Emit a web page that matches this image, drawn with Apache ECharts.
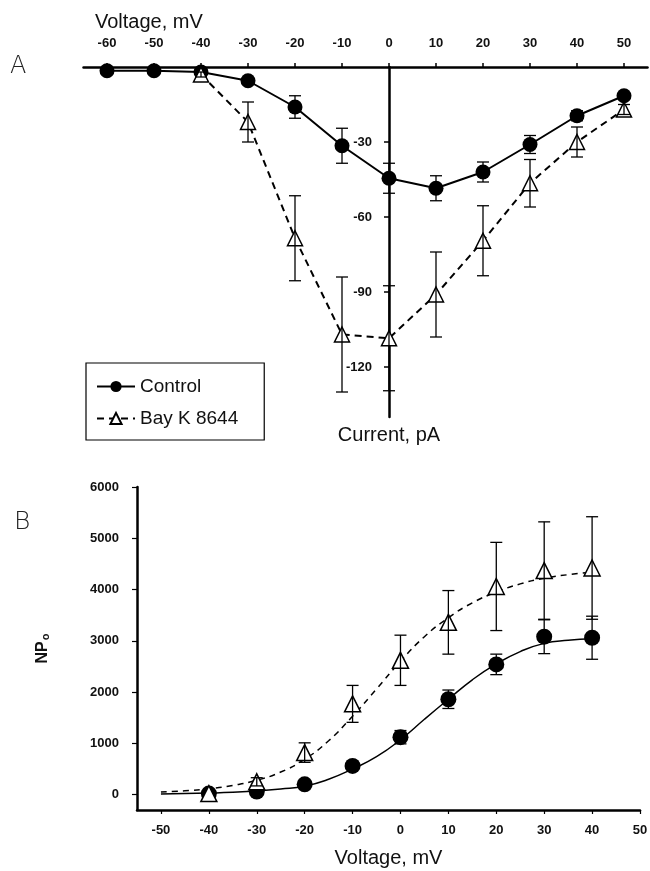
<!DOCTYPE html>
<html lang="en">
<head>
    <meta charset="UTF-8">
    <title>Ca channel I-V and NPo</title>
    <script src="https://cdn.jsdelivr.net/npm/echarts@6/dist/echarts.min.js"></script>
    <style>
        html, body { margin: 0; padding: 0; background: #fff; }
        #chart { width: 650px; height: 871px; }
    </style>
</head>
<body>
<div id="chart"></div>
<script>
    // panel A: current-voltage
    var voltsA = [-60, -50, -40, -30, -20, -10, 0, 10, 20, 30, 40, 50];
    var controlA = [-1.5, -1.5, -2, -5.5, -16, -31.5, -44.5, -48.5, -42, -31, -19.5, -11.5];
    var controlAErr = [0, 0, 0, 0, 4.5, 7, 6, 5, 4, 3.6, 2, 0];
    var voltsBayA = [-40, -30, -20, -10, 0, 10, 20, 30, 40, 50];
    var bayA = [-3, -22, -68.5, -107, -108.5, -91, -69.5, -46.5, -30, -17];
    var bayAErr = [1, 8, 17, 23, 21, 17, 14, 9.5, 6, 2];
    var ticksA_x = [-60, -50, -40, -30, -20, -10, 0, 10, 20, 30, 40, 50];
    var ticksA_y = [-30, -60, -90, -120];

    // panel B: NPo vs voltage
    var voltsB = [-40, -30, -20, -10, 0, 10, 20, 30, 40];
    var controlB = [20, 60, 200, 560, 1120, 1860, 2540, 3080, 3060];
    var controlBErr = [0, 0, 0, 60, 130, 180, 200, 330, 420];
    var bayB = [20, 250, 820, 1770, 2620, 3360, 4060, 4370, 4420];
    var bayBErr = [0, 80, 190, 360, 490, 620, 860, 950, 1000];
    // fitted curves
    var fitV = [-50, -45, -40, -35, -30, -25, -20, -15, -10, -5, 0, 5, 10, 15, 20, 25, 30, 35, 40];
    var fitControl = [10, 20, 30, 45, 70, 110, 165, 300, 500, 740, 1070, 1470, 1860, 2240, 2550, 2790, 2950, 3010, 3040];
    var fitBay = [50, 75, 115, 180, 280, 440, 690, 1050, 1530, 2060, 2600, 3080, 3450, 3740, 3950, 4110, 4220, 4290, 4340];
    var ticksB_x = [-50, -40, -30, -20, -10, 0, 10, 20, 30, 40, 50];
    var ticksB_y = [0, 1000, 2000, 3000, 4000, 5000, 6000];

    function zip(xs, ys, es) {
        var out = [];
        for (var i = 0; i < xs.length; i++) {
            out.push(es ? [xs[i], ys[i], es[i]] : [xs[i], ys[i]]);
        }
        return out;
    }

    function errRender(params, api) {
        var x = api.value(0), y = api.value(1), e = api.value(2);
        if (!e) return null;
        var top = api.coord([x, y + e]);
        var bot = api.coord([x, y - e]);
        var w = 6;
        var st = { stroke: '#000', lineWidth: 1.3 };
        return {
            type: 'group',
            children: [
                { type: 'line', shape: { x1: top[0], y1: top[1], x2: bot[0], y2: bot[1] }, style: st },
                { type: 'line', shape: { x1: top[0] - w, y1: top[1], x2: top[0] + w, y2: top[1] }, style: st },
                { type: 'line', shape: { x1: bot[0] - w, y1: bot[1], x2: bot[0] + w, y2: bot[1] }, style: st }
            ]
        };
    }

    var font = 'Liberation Sans, Arial, sans-serif';
    var tickLabel = {
        color: '#111', fontFamily: font, fontSize: 13, fontWeight: 'bold',
        formatter: function (v) { return String(v); }
    };

    // grid A geometry: x from -65 to 55 over 564 px
    var gridA_left = 83.5, gridA_width = 564;
    var zeroOffsetA = -(65 / 120) * gridA_width;   // move y axis to 0 mV

    var myChart = echarts.init(document.getElementById('chart'));
    var option = {
        backgroundColor: '#fff',
        animation: false,
        grid: [
            { left: gridA_left, width: gridA_width, top: 67, height: 350, outerBoundsMode: 'none' },
            { left: 137, right: 10, top: 487, height: 323, outerBoundsMode: 'none' }
        ],
        legend: {
            data: ['Control', 'Bay K 8644'],
            orient: 'vertical',
            left: 86,
            top: 363,
            padding: [14, 26, 12, 10],
            itemWidth: 38,
            itemHeight: 14,
            itemGap: 13,
            borderColor: '#000',
            borderWidth: 1.2,
            backgroundColor: '#fff',
            textStyle: { color: '#111', fontFamily: font, fontSize: 19 }
        },
        xAxis: [
            {
                gridIndex: 0, type: 'value', position: 'top', min: -65, max: 55,
                axisLine: { onZero: false, lineStyle: { color: '#000', width: 2.5 } },
                axisTick: { length: 4, lineStyle: { color: '#000', width: 1.5 }, customValues: ticksA_x },
                axisLabel: Object.assign({ margin: 17, customValues: ticksA_x }, tickLabel),
                splitLine: { show: false }
            },
            {
                gridIndex: 1, type: 'value', min: -55, max: 50,
                name: 'Voltage, mV', nameLocation: 'middle', nameGap: 38,
                nameTextStyle: { color: '#111', fontFamily: font, fontSize: 20 },
                axisLine: { onZero: false, lineStyle: { color: '#000', width: 2.5 } },
                axisTick: { length: 4, lineStyle: { color: '#000', width: 1.2 }, customValues: ticksB_x },
                axisLabel: Object.assign({ margin: 14, customValues: ticksB_x }, tickLabel),
                splitLine: { show: false }
            }
        ],
        yAxis: [
            {
                gridIndex: 0, type: 'value', min: -140, max: 0,
                position: 'left', offset: zeroOffsetA,
                name: 'Current, pA', nameLocation: 'start', nameGap: 8,
                nameTextStyle: { color: '#111', fontFamily: font, fontSize: 20, verticalAlign: 'top' },
                axisLine: { onZero: false, lineStyle: { color: '#000', width: 2.5 } },
                axisTick: { length: 5, lineStyle: { color: '#000', width: 1.5 }, customValues: ticksA_y },
                axisLabel: Object.assign({ margin: 17, customValues: ticksA_y }, tickLabel),
                splitLine: { show: false }
            },
            {
                gridIndex: 1, type: 'value', min: -300, max: 6000,
                name: '{a|NP}{b|o}', nameLocation: 'middle', nameGap: 86, nameRotate: 90,
                nameTextStyle: {
                    color: '#111', fontFamily: font,
                    rich: {
                        a: { fontSize: 16, fontWeight: 'bold', fontFamily: font, color: '#111' },
                        b: { fontSize: 11, fontWeight: 'bold', fontFamily: font, color: '#111', padding: [6, 0, 0, 1] }
                    }
                },
                axisLine: { onZero: false, lineStyle: { color: '#000', width: 2.5 } },
                axisTick: { length: 5, lineStyle: { color: '#000', width: 1.2 }, customValues: ticksB_y },
                axisLabel: Object.assign({ margin: 18, customValues: ticksB_y }, tickLabel),
                splitLine: { show: false }
            }
        ],
        graphic: [
            { type: 'text', left: 95, top: 12, style: { text: 'Voltage, mV', font: '20px Liberation Sans, Arial, sans-serif', fill: '#111' } },
            { type: 'text', left: 10, top: 55, style: { text: 'A', font: '200 24px DejaVu Sans, sans-serif', fill: '#222' } },
            { type: 'text', left: 14, top: 510, style: { text: 'B', font: '200 25px DejaVu Sans, sans-serif', fill: '#222' } }
        ],
        series: [
            {
                name: 'Control', type: 'line', xAxisIndex: 0, yAxisIndex: 0,
                data: zip(voltsA, controlA),
                symbol: 'circle', symbolSize: 15,
                itemStyle: { color: '#000' },
                lineStyle: { color: '#000', width: 2 },
                z: 3
            },
            {
                name: 'Bay K 8644', type: 'line', xAxisIndex: 0, yAxisIndex: 0,
                data: zip(voltsBayA, bayA),
                symbol: 'triangle', symbolSize: 15,
                itemStyle: { color: '#fff', borderColor: '#000', borderWidth: 1.5 },
                lineStyle: { color: '#000', width: 2, type: [7, 5] },
                z: 4
            },
            {
                name: 'errA1', type: 'custom', xAxisIndex: 0, yAxisIndex: 0,
                data: zip(voltsA, controlA, controlAErr), renderItem: errRender, z: 5, silent: true
            },
            {
                name: 'errA2', type: 'custom', xAxisIndex: 0, yAxisIndex: 0,
                data: zip(voltsBayA, bayA, bayAErr), renderItem: errRender, z: 5, silent: true
            },
            {
                name: 'fitControl', type: 'line', xAxisIndex: 1, yAxisIndex: 1,
                data: zip(fitV, fitControl), smooth: true, showSymbol: false,
                lineStyle: { color: '#000', width: 1.5 }, z: 2
            },
            {
                name: 'fitBay', type: 'line', xAxisIndex: 1, yAxisIndex: 1,
                data: zip(fitV, fitBay), smooth: true, showSymbol: false,
                lineStyle: { color: '#000', width: 1.5, type: [6, 5] }, z: 2
            },
            {
                name: 'controlB', type: 'scatter', xAxisIndex: 1, yAxisIndex: 1,
                data: zip(voltsB, controlB), symbol: 'circle', symbolSize: 16,
                itemStyle: { color: '#000', opacity: 1 }, z: 3
            },
            {
                name: 'bayB', type: 'scatter', xAxisIndex: 1, yAxisIndex: 1,
                data: zip(voltsB, bayB), symbol: 'triangle', symbolSize: 16,
                itemStyle: { color: '#fff', borderColor: '#000', borderWidth: 1.5, opacity: 1 }, z: 4
            },
            {
                name: 'errB1', type: 'custom', xAxisIndex: 1, yAxisIndex: 1,
                data: zip(voltsB, controlB, controlBErr), renderItem: errRender, z: 5, silent: true
            },
            {
                name: 'errB2', type: 'custom', xAxisIndex: 1, yAxisIndex: 1,
                data: zip(voltsB, bayB, bayBErr), renderItem: errRender, z: 5, silent: true
            }
        ]
    };
    myChart.setOption(option);
</script>
</body>
</html>
